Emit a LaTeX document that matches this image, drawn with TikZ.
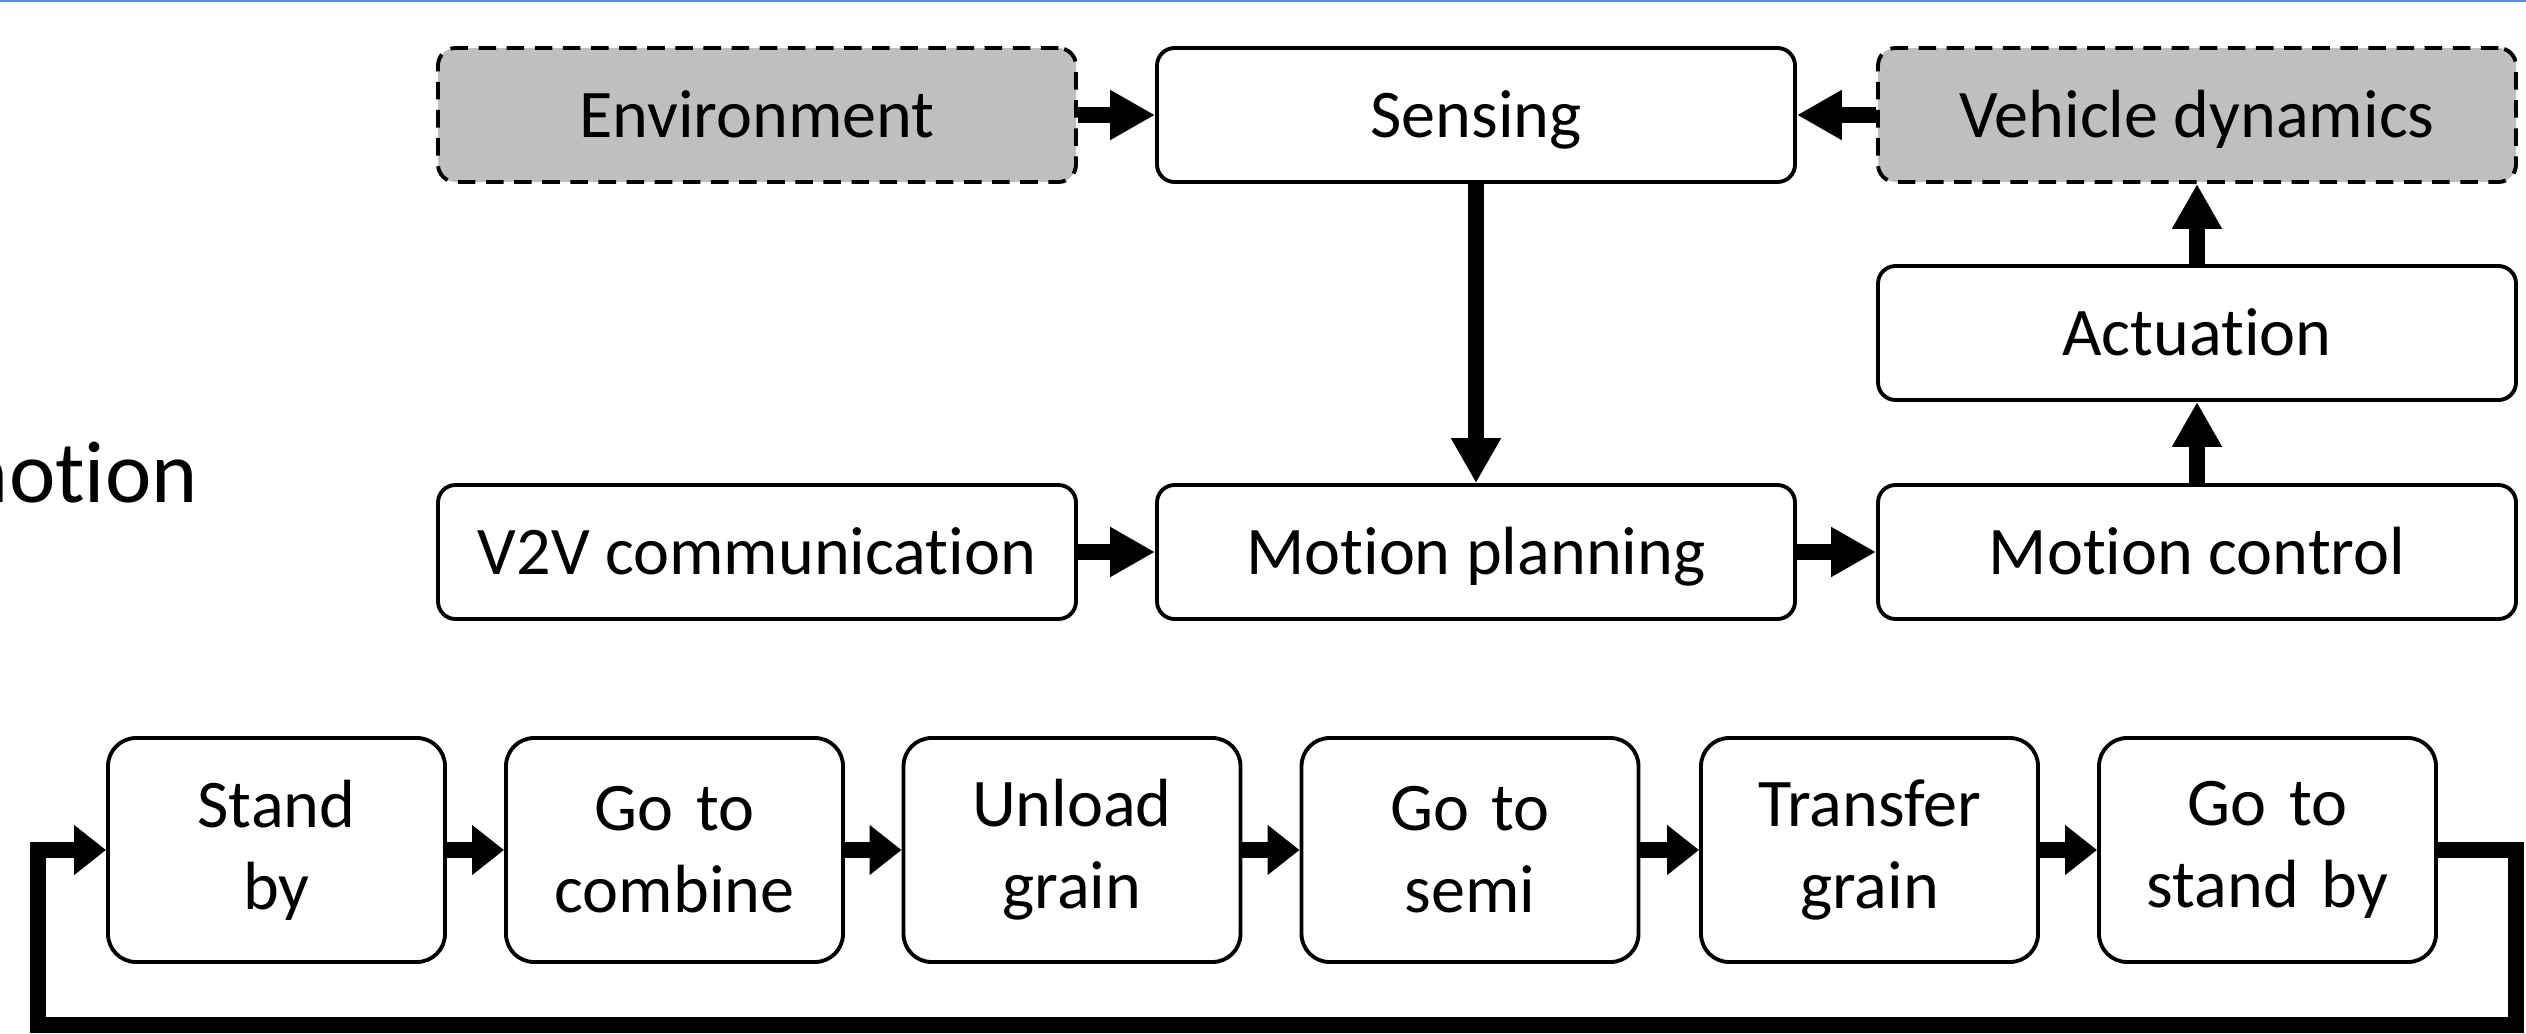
\documentclass[tikz,border=0pt]{standalone}
\usepackage{fontspec}
\setmainfont{Carlito}[Ligatures=NoCommon]
\usetikzlibrary{arrows.meta, positioning}
\definecolor{ruleblue}{RGB}{91,143,210}
\definecolor{envgray}{RGB}{191,191,191}

\begin{document}
\begin{tikzpicture}[
    font=\fontsize{19.4}{23.3}\selectfont,
    block/.style={rectangle, rounded corners=5pt, draw=black, line width=1.1pt,
                  fill=white, minimum width=6.38cm, minimum height=1.34cm,
                  align=center, inner sep=0pt, text height=0.6cm, text depth=0.16cm},
    extern/.style={block, fill=envgray, dash pattern=on 5pt off 3pt},
    state/.style={block, rounded corners=8pt, minimum width=3.37cm,
                  minimum height=2.24cm, text width=3.3cm,
                  text height=, text depth=},
    arr/.style={-{Triangle[length=0.45cm, width=0.47cm]}, line width=4.3pt},
    sarr/.style={-{Triangle[length=0.32cm, width=0.48cm]}, line width=4.3pt}
]

\clip (0,0) rectangle (25.26,-10.33);
\fill[ruleblue] (0,0) rectangle (25.26,-0.02);

% left-over caption, cut by the page edge
\node[anchor=base east, font=\fontsize{25}{30}\selectfont] (cap) at (2.10,-5.02) {motion};

% control loop
\node[extern] (env)   at (7.57,-1.15)  {Environment};
\node[block]  (sense) at (14.76,-1.15) {Sensing};
\node[extern] (vdyn)  at (21.97,-1.15) {Vehicle dynamics};
\node[block]  (act)   at (21.97,-3.33) {Actuation};
\node[block]  (v2v)   at (7.57,-5.52)  {V2V communication};
\node[block]  (plan)  at (14.76,-5.52) {Motion planning};
\node[block]  (ctrl)  at (21.97,-5.52) {Motion control};

\draw[arr] (env.east) -- (sense.west);
\draw[arr] (vdyn.west) -- (sense.east);
\draw[arr] (sense.south) -- (plan.north);
\draw[arr] (v2v.east) -- (plan.west);
\draw[arr] (plan.east) -- (ctrl.west);
\draw[arr] (ctrl.north) -- (act.south);
\draw[arr] (act.north) -- (vdyn.south);

% unloading cycle
\node[state] (standby) at (2.765,-8.50)  {Stand\\by};
\node[state] (gocomb)  at (6.745,-8.50)  {Go to\\combine};
\node[state] (unload)  at (10.72,-8.50)  {Unload\\grain};
\node[state] (gosemi)  at (14.70,-8.50)  {Go to\\semi};
\node[state] (transf)  at (18.695,-8.50) {Transfer\\grain};
\node[state] (gostand) at (22.675,-8.50) {Go to\\stand by};

\draw[sarr] (standby.east) -- (gocomb.west);
\draw[sarr] (gocomb.east) -- (unload.west);
\draw[sarr] (unload.east) -- (gosemi.west);
\draw[sarr] (gosemi.east) -- (transf.west);
\draw[sarr] (transf.east) -- (gostand.west);

\coordinate (loopR) at (25.16,-10.25);
\coordinate (loopL) at (0.38,-10.25);
\draw[sarr] (gostand.east) -| (loopR) -- (loopL) |- (standby.west);

\end{tikzpicture}
\end{document}
